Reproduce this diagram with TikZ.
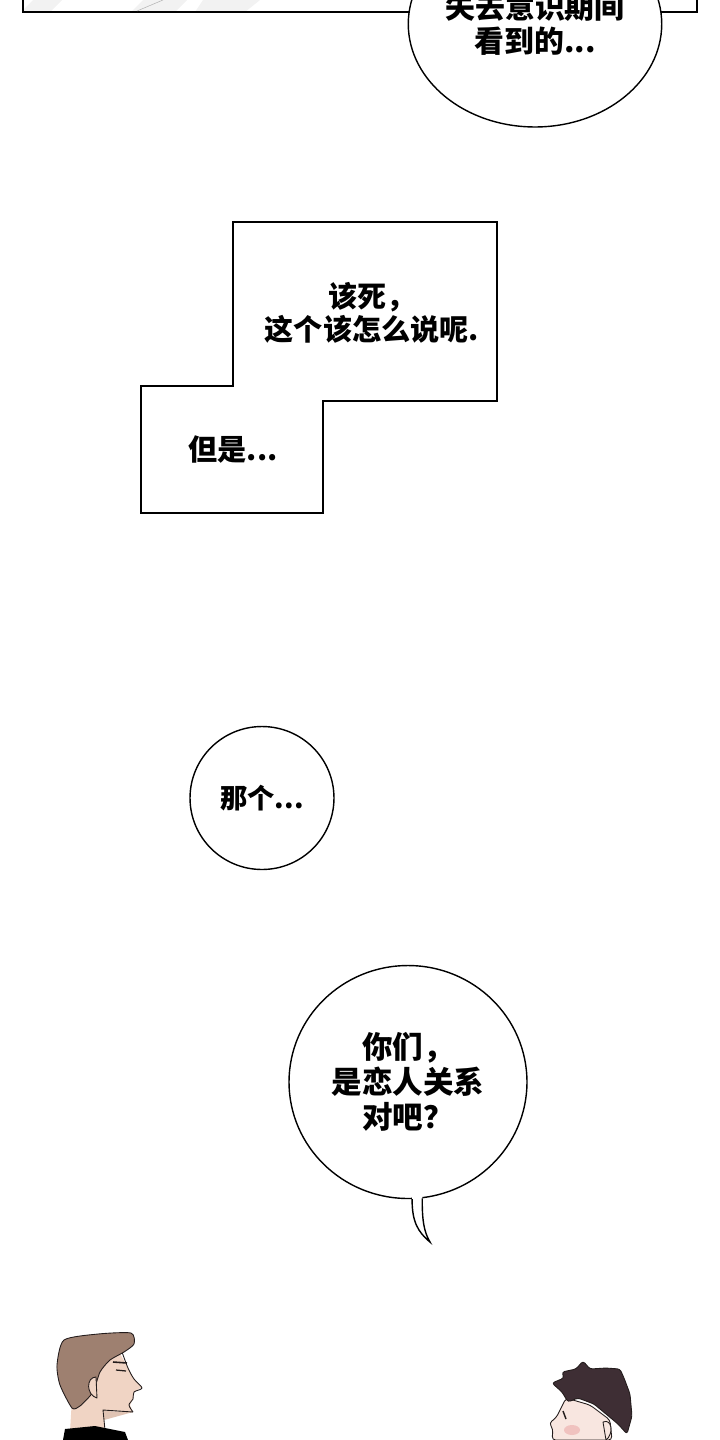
\documentclass[tikz,border=0pt]{standalone}
\usepackage{fontspec}
\usepackage{tikz}
\usetikzlibrary{shapes.geometric}
\newfontfamily\cjk{Noto Sans CJK SC}
\definecolor{hairbrown}{RGB}{158,128,112}
\definecolor{skinlight}{RGB}{240,212,196}
\definecolor{hairdark}{RGB}{62,46,52}
\definecolor{skinpale}{RGB}{248,230,224}
\definecolor{blush}{RGB}{236,170,170}
\definecolor{inkline}{RGB}{35,28,28}
\tikzstyle{bubble} = [ellipse,
draw=black,
fill=white,
line width=0.8pt,
inner sep=0pt,
align=center]
\tikzstyle{caption} = [draw=black, fill=white, line width=0.8pt]
\tikzstyle{words} = [align=center, font=\cjk\bfseries\fontsize{16.6}{18.7}\selectfont]
\tikzstyle{ink} = [draw=inkline, line width=0.5pt, line join=round]

\begin{document}
\begin{tikzpicture}[x=0.02cm, y=-0.02cm]
				\useasboundingbox (0,0) rectangle (720,1440);
				\clip (0,0) rectangle (720,1440);

				% top panel
				\begin{scope}
					\clip (23,-40) rectangle (697,12);
					\fill[gray!10] (33,0) -- (62,0) -- (50,12) -- (21,12) -- cycle;
					\fill[gray!10] (143,0) -- (187,0) -- (175,12) -- (131,12) -- cycle;
					\fill[gray!10] (203,0) -- (260,0) -- (245,12) -- (195,12) -- cycle;
				\end{scope}
				\draw[line width=0.8pt] (23,-40) rectangle (697,12);
				\draw[gray!60, line width=0.3pt] (137,11) -- (163,0);
				\node[bubble, minimum width=5cm, minimum height=4.12cm,
					font=\cjk\bfseries\fontsize{17}{19.8}\selectfont] (b-seen) at (535,24) {失去意识期间\\看到的...};

				% stepped caption
				\draw[caption] (233,222) -- (497,222) -- (497,401) -- (323,401) -- (323,513)
					-- (141,513) -- (141,386) -- (233,386) -- cycle;
				\node[words] (t-damn) at (372,313) {该死，\\这个该怎么说呢.};
				\node[words] (t-but) at (233,449) {但是...};

				% small bubble
				\node[bubble, minimum width=2.88cm, minimum height=2.86cm,
					font=\cjk\bfseries\fontsize{15.5}{18}\selectfont] (b-that) at (262,798) {那个...};

				% big bubble with tail
				\node[bubble, minimum width=4.76cm, minimum height=4.66cm,
					font=\cjk\bfseries\fontsize{17.4}{19.8}\selectfont] (b-you) at (408,1082) {你们，\\是恋人关系\\对吧？};
				\coordinate (tail-tip) at (430,1242);
				\fill[white] ([yshift=3pt]b-you.-88) -- (b-you.-88) .. controls (412,1222) and (418,1232) .. (tail-tip)
					.. controls (424,1232) and (422,1220) .. (b-you.-83) -- ([yshift=3pt]b-you.-83) -- cycle;
				\draw[line width=0.8pt] (b-you.-88) .. controls (412,1222) and (418,1232) .. (tail-tip)
					.. controls (424,1232) and (422,1220) .. (b-you.-83);

				% left man
				\fill[skinlight] (118,1350) -- (127,1366) -- (133,1378) -- (142,1387) -- (134,1392) -- (133,1399)
					-- (130,1405) -- (133,1412) -- (104,1411) -- (104,1432) -- (70,1432) -- (72,1398) -- (95,1372) -- cycle;
				\fill[skinlight!80!hairbrown] (104,1411) -- (133,1412) -- (104,1420) -- cycle;
				\draw[ink] plot[smooth, tension=0.5] coordinates {(122,1352) (128,1368) (134,1379) (142,1388) (134,1392) (133,1399) (129,1405) (133,1412)};
				\draw[ink] (133,1412) -- (103,1410) -- (105,1430);
				\filldraw[ink, fill=hairbrown] plot[smooth cycle, tension=0.4] coordinates {(64,1340) (98,1334) (131,1333)
					(134,1344) (124,1352) (110,1360) (100,1372) (93,1392) (80,1406) (72,1408) (60,1385) (57,1365)};
				\filldraw[ink, fill=skinlight] (96,1377) .. controls (86,1377) and (86,1395) .. (97,1398) -- cycle;
				\draw[ink, line width=0.9pt] (113,1362) -- (127,1363);
				\draw[ink, line width=0.7pt] (116,1370) -- (126,1371);
				\fill[black] (63,1440) -- (65,1429) -- (95,1426) -- (125,1432) -- (128,1440) -- cycle;

				% right boy
				\filldraw[ink, fill=skinpale, rounded corners=2pt] (566,1398) -- (560,1410) -- (556,1418) -- (549,1423)
					-- (553,1429) -- (552,1440) -- (612,1440) -- (610,1420) -- (590,1405) -- cycle;
				\fill[blush, opacity=0.6] (572,1430) ellipse (0.16cm and 0.1cm);
				\filldraw[ink, fill=hairdark, rounded corners=1.5pt] (552,1383) -- (564,1378) -- (562,1372) -- (576,1369)
					-- (583,1361) -- (590,1369) -- (606,1368) -- (620,1369) -- (624,1378) -- (630,1394) -- (632,1416)
					-- (627,1434) -- (618,1424) -- (606,1414) -- (594,1404) -- (578,1398) -- (568,1402) -- (562,1392) -- cycle;
				\filldraw[ink, fill=skinpale] (603,1422) .. controls (612,1418) and (614,1434) .. (606,1440) -- cycle;
				\draw[ink, line width=0.8pt] (563,1411) -- (566,1419);
			\end{tikzpicture}
\end{document}
